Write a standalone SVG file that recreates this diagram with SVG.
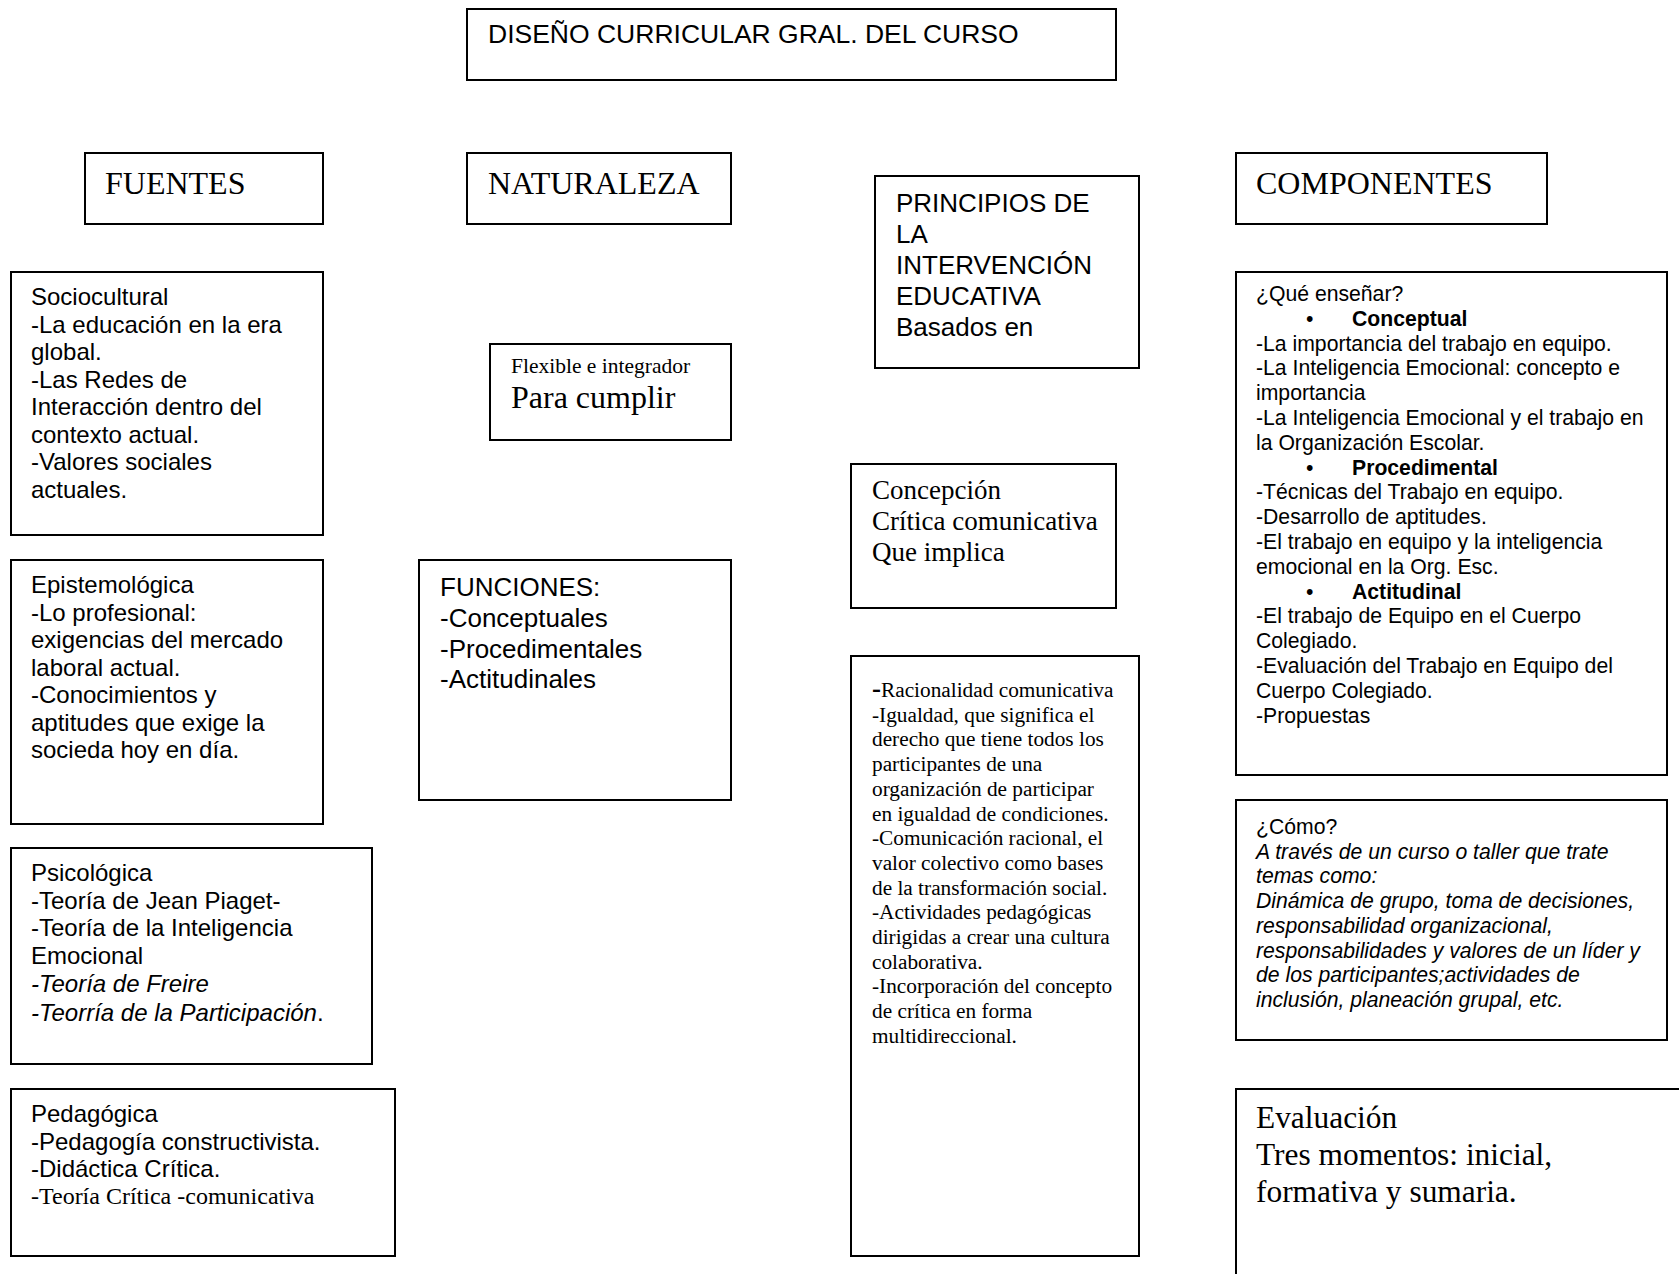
<svg xmlns="http://www.w3.org/2000/svg" width="1679" height="1274" viewBox="0 0 1679 1274">
<style>
.box{fill:#fff;stroke:#000;stroke-width:2}
.a{font-family:"Liberation Sans",Arial,sans-serif;fill:#000}
.t{font-family:"Liberation Serif","Times New Roman",serif;fill:#000}
.i{font-style:italic}
.n{font-style:normal}
.b{font-weight:bold}
</style>
<rect width="1679" height="1274" fill="#fff"/>
<g id="connectors"></g>

<g id="titulo">
<rect class="box" x="467" y="9" width="649" height="71"/>
<text class="a" x="488" y="43" font-size="26.5">DISEÑO CURRICULAR GRAL. DEL CURSO</text>
</g>

<g id="fuentes">
<rect class="box" x="85" y="153" width="238" height="71"/>
<text class="t" x="105" y="194" font-size="32">FUENTES</text>
</g>

<g id="naturaleza">
<rect class="box" x="467" y="153" width="264" height="71"/>
<text class="t" x="488" y="194" font-size="32">NATURALEZA</text>
</g>

<g id="principios">
<rect class="box" x="875" y="176" width="264" height="192"/>
<text class="a" font-size="26">
<tspan x="896" y="212">PRINCIPIOS DE</tspan>
<tspan x="896" y="243">LA</tspan>
<tspan x="896" y="274">INTERVENCIÓN</tspan>
<tspan x="896" y="305">EDUCATIVA</tspan>
<tspan x="896" y="336">Basados en</tspan>
</text>
</g>

<g id="componentes">
<rect class="box" x="1236" y="153" width="311" height="71"/>
<text class="t" x="1256" y="194" font-size="32">COMPONENTES</text>
</g>

<g id="sociocultural">
<rect class="box" x="11" y="272" width="312" height="263"/>
<text class="a" font-size="24">
<tspan x="31" y="305">Sociocultural</tspan>
<tspan x="31" y="332.5">-La educación en la era</tspan>
<tspan x="31" y="360">global.</tspan>
<tspan x="31" y="387.5">-Las Redes de</tspan>
<tspan x="31" y="415">Interacción dentro del</tspan>
<tspan x="31" y="442.5">contexto actual.</tspan>
<tspan x="31" y="470">-Valores sociales</tspan>
<tspan x="31" y="497.5">actuales.</tspan>
</text>
</g>

<g id="epistemologica">
<rect class="box" x="11" y="560" width="312" height="264"/>
<text class="a" font-size="24">
<tspan x="31" y="593">Epistemológica</tspan>
<tspan x="31" y="620.5">-Lo profesional:</tspan>
<tspan x="31" y="648">exigencias del mercado</tspan>
<tspan x="31" y="675.5">laboral actual.</tspan>
<tspan x="31" y="703">-Conocimientos y</tspan>
<tspan x="31" y="730.5">aptitudes que exige la</tspan>
<tspan x="31" y="758">socieda hoy en día.</tspan>
</text>
</g>

<g id="psicologica">
<rect class="box" x="11" y="848" width="361" height="216"/>
<text class="a" font-size="24">
<tspan x="31" y="881">Psicológica</tspan>
<tspan x="31" y="908.5">-Teoría de Jean Piaget-</tspan>
<tspan x="31" y="936">-Teoría de la Inteligencia</tspan>
<tspan x="31" y="963.5">Emocional</tspan>
<tspan x="31" y="992" class="i">-Teoría de Freire</tspan>
<tspan x="31" y="1021" class="i">-Teorría de la Participación<tspan class="n">.</tspan></tspan>
</text>
</g>

<g id="pedagogica">
<rect class="box" x="11" y="1089" width="384" height="167"/>
<text class="a" font-size="24">
<tspan x="31" y="1122">Pedagógica</tspan>
<tspan x="31" y="1149.5">-Pedagogía constructivista.</tspan>
<tspan x="31" y="1177">-Didáctica Crítica.</tspan>
</text>
<text class="t" x="31" y="1204" font-size="24">-Teoría Crítica -comunicativa</text>
</g>

<g id="flexible">
<rect class="box" x="490" y="344" width="241" height="96"/>
<text class="t" x="511" y="373" font-size="21.5">Flexible e integrador</text>
<text class="t" x="511" y="408" font-size="32">Para cumplir</text>
</g>

<g id="funciones">
<rect class="box" x="419" y="560" width="312" height="240"/>
<text class="a" font-size="26">
<tspan x="440" y="596">FUNCIONES:</tspan>
<tspan x="440" y="627">-Conceptuales</tspan>
<tspan x="440" y="658">-Procedimentales</tspan>
<tspan x="440" y="688">-Actitudinales</tspan>
</text>
</g>

<g id="concepcion">
<rect class="box" x="851" y="464" width="265" height="144"/>
<text class="t" font-size="27">
<tspan x="872" y="499">Concepción</tspan>
<tspan x="872" y="530">Crítica comunicativa</tspan>
<tspan x="872" y="561">Que implica</tspan>
</text>
</g>

<g id="racionalidad">
<rect class="box" x="851" y="656" width="288" height="600"/>
<text class="t" font-size="21.3">
<tspan x="872" y="697"><tspan font-size="27" font-weight="bold">-</tspan>Racionalidad comunicativa</tspan>
<tspan x="872" y="721.7">-Igualdad, que significa el</tspan>
<tspan x="872" y="746.4">derecho que tiene todos los</tspan>
<tspan x="872" y="771.1">participantes de una</tspan>
<tspan x="872" y="795.8">organización de participar</tspan>
<tspan x="872" y="820.5">en igualdad de condiciones.</tspan>
<tspan x="872" y="845.2">-Comunicación racional, el</tspan>
<tspan x="872" y="869.9">valor colectivo como bases</tspan>
<tspan x="872" y="894.6">de la transformación social.</tspan>
<tspan x="872" y="919.3">-Actividades pedagógicas</tspan>
<tspan x="872" y="944">dirigidas a crear una cultura</tspan>
<tspan x="872" y="968.7">colaborativa.</tspan>
<tspan x="872" y="993.4">-Incorporación del concepto</tspan>
<tspan x="872" y="1018.1">de crítica en forma</tspan>
<tspan x="872" y="1042.8">multidireccional.</tspan>
</text>
</g>

<g id="que-ensenar">
<rect class="box" x="1236" y="272" width="431" height="503"/>
<text class="a" font-size="21.2">
<tspan x="1256" y="301">¿Qué enseñar?</tspan>
<tspan x="1306" y="325.8">•</tspan><tspan x="1352" y="325.8" class="b">Conceptual</tspan>
<tspan x="1256" y="350.6">-La importancia del trabajo en equipo.</tspan>
<tspan x="1256" y="375.4">-La Inteligencia Emocional: concepto e</tspan>
<tspan x="1256" y="400.2">importancia</tspan>
<tspan x="1256" y="425">-La Inteligencia Emocional y el trabajo en</tspan>
<tspan x="1256" y="449.8">la Organización Escolar.</tspan>
<tspan x="1306" y="474.6">•</tspan><tspan x="1352" y="474.6" class="b">Procedimental</tspan>
<tspan x="1256" y="499.4">-Técnicas del Trabajo en equipo.</tspan>
<tspan x="1256" y="524.2">-Desarrollo de aptitudes.</tspan>
<tspan x="1256" y="549">-El trabajo en equipo y la inteligencia</tspan>
<tspan x="1256" y="573.8">emocional en la Org. Esc.</tspan>
<tspan x="1306" y="598.6">•</tspan><tspan x="1352" y="598.6" class="b">Actitudinal</tspan>
<tspan x="1256" y="623.4">-El trabajo de Equipo en el Cuerpo</tspan>
<tspan x="1256" y="648.2">Colegiado.</tspan>
<tspan x="1256" y="673">-Evaluación del Trabajo en Equipo del</tspan>
<tspan x="1256" y="697.8">Cuerpo Colegiado.</tspan>
<tspan x="1256" y="722.6">-Propuestas</tspan>
</text>
</g>

<g id="como">
<rect class="box" x="1236" y="800" width="431" height="240"/>
<text class="a" font-size="21.2">
<tspan x="1256" y="834">¿Cómo?</tspan>
<tspan x="1256" y="858.7" class="i">A través de un curso o taller que trate</tspan>
<tspan x="1256" y="883.4" class="i">temas como:</tspan>
<tspan x="1256" y="908.1" class="i">Dinámica de grupo, toma de decisiones,</tspan>
<tspan x="1256" y="932.8" class="i">responsabilidad organizacional,</tspan>
<tspan x="1256" y="957.5" class="i">responsabilidades y valores de un líder y</tspan>
<tspan x="1256" y="982.2" class="i">de los participantes;actividades de</tspan>
<tspan x="1256" y="1006.9" class="i">inclusión, planeación grupal, etc.</tspan>
</text>
</g>

<g id="evaluacion">
<rect class="box" x="1236" y="1089" width="500" height="250"/>
<text class="t" font-size="31.4">
<tspan x="1256" y="1128">Evaluación</tspan>
<tspan x="1256" y="1165">Tres momentos: inicial,</tspan>
<tspan x="1256" y="1202">formativa y sumaria.</tspan>
</text>
</g>
</svg>
